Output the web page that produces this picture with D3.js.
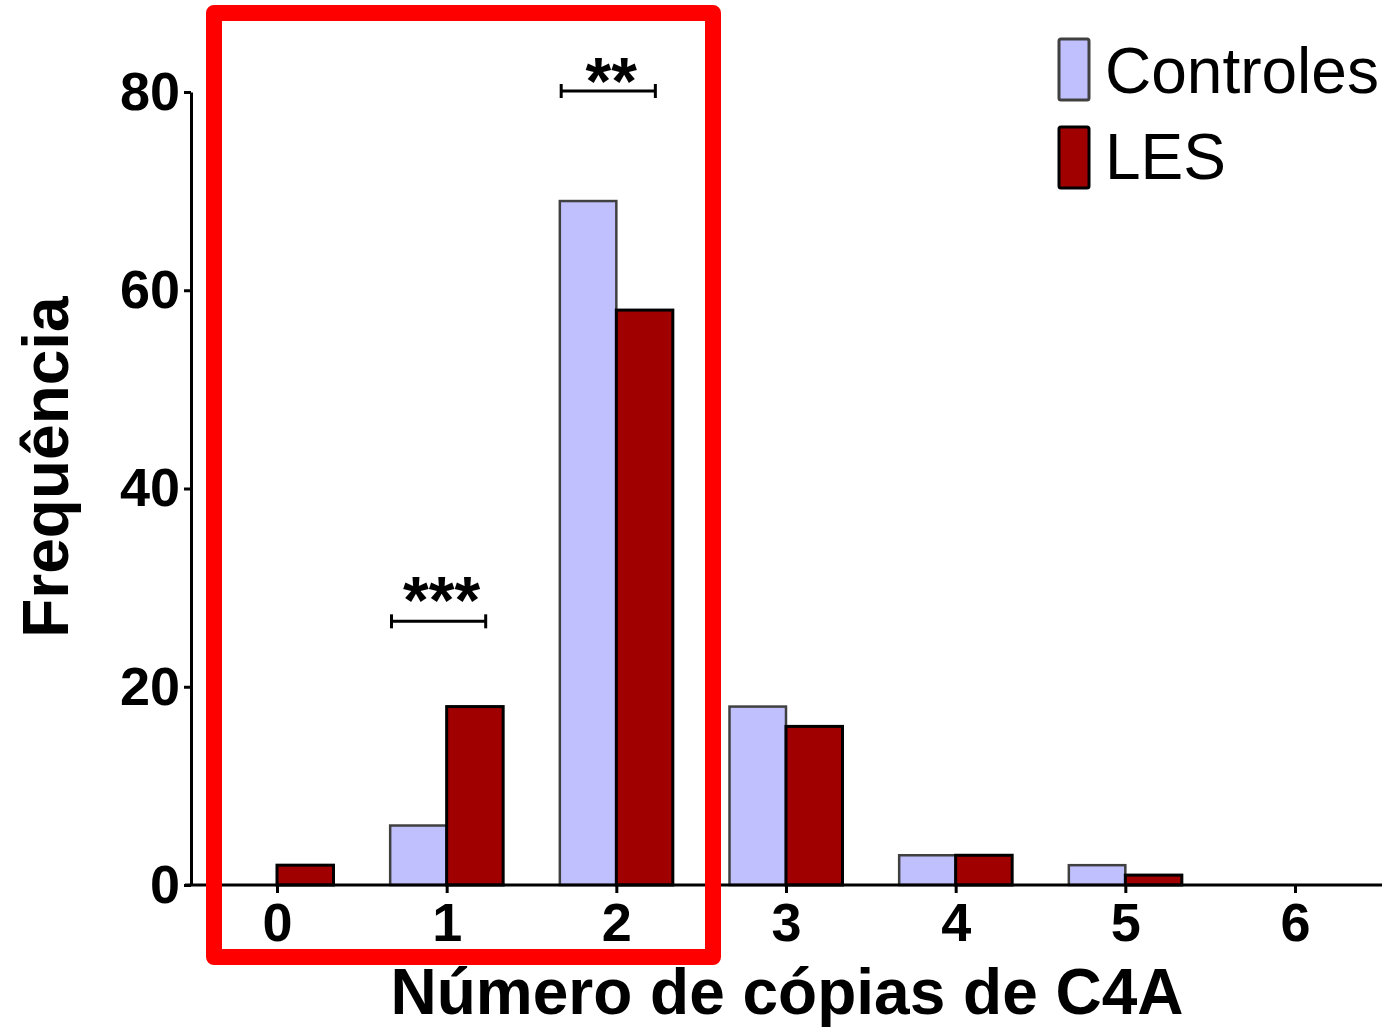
<!DOCTYPE html>
<html>
<head>
<meta charset="utf-8">
<script src="https://cdn.jsdelivr.net/npm/d3@7"></script>
<style>
  html, body { margin: 0; padding: 0; background: #fff; }
  svg { display: block; font-family: "Liberation Sans", Arial, sans-serif; }
</style>
</head>
<body>
<svg id="chart" width="1386" height="1029"></svg>
<script>
// categories = copy number of C4A
const categories = [0, 1, 2, 3, 4, 5, 6];
const controles = [0, 6, 69, 18, 3, 2, 0];
const les = [2, 18, 58, 16, 3, 1, 0];
const yTicks = [0, 20, 40, 60, 80];
const seriesNames = ['Controles', 'LES'];
// significance brackets: category, bracket level, stars
const sigCats = [1, 2];
const sigLevels = [26.6, 80.1];
const sigLabels = ['***', '**'];

const colors = { Controles: '#c0c0ff', LES: '#a00000' };
const strokes = { Controles: '#404040', LES: '#000000' };

const svg = d3.select('#chart');

// scales
const x = d3.scaleLinear().domain([0, 6]).range([277, 1295]);
const y = d3.scaleLinear().domain([0, 80]).range([885, 92]);
const bw = 0.333; // bar width in category units

// bars
const rows = categories.map((c, i) => ({ c, Controles: controles[i], LES: les[i] }));
const bars = svg.append('g');
rows.forEach(r => {
  seriesNames.forEach((s, k) => {
    if (r[s] <= 0) return;
    const x0 = k === 0 ? x(r.c - bw) : x(r.c);
    const x1 = k === 0 ? x(r.c) : x(r.c + bw);
    bars.append('rect')
      .attr('x', x0)
      .attr('y', y(r[s]))
      .attr('width', x1 - x0)
      .attr('height', y(0) - y(r[s]))
      .attr('fill', colors[s])
      .attr('stroke', strokes[s])
      .attr('stroke-width', s === 'LES' ? 3 : 2.5);
  });
});

// x axis
const xAxis = svg.append('g')
  .attr('transform', `translate(0,${y(0)})`)
  .call(d3.axisBottom(x).tickValues(categories).tickFormat(d3.format('d'))
    .tickSize(8).tickSizeOuter(0).tickPadding(10));
xAxis.select('.domain').remove();
xAxis.append('line')
  .attr('x1', x(-0.542)).attr('x2', x(6.513))
  .attr('stroke', '#000').attr('stroke-width', 3);
xAxis.selectAll('.tick line').attr('stroke-width', 3);
xAxis.selectAll('.tick text')
  .attr('font-size', 54).attr('font-weight', 'bold').attr('fill', '#000')
  .attr('font-family', '"Liberation Sans", Arial, sans-serif');

// y axis
const yAxis = svg.append('g')
  .attr('transform', 'translate(191,0)')
  .call(d3.axisLeft(y).tickValues(yTicks).tickFormat(d3.format('d'))
    .tickSize(7).tickSizeOuter(0).tickPadding(4));
yAxis.select('.domain').attr('stroke-width', 3);
yAxis.selectAll('.tick line').attr('stroke-width', 3);
yAxis.selectAll('.tick text')
  .attr('font-size', 54).attr('font-weight', 'bold').attr('fill', '#000')
  .attr('font-family', '"Liberation Sans", Arial, sans-serif');

// axis titles
svg.append('text')
  .attr('x', 787).attr('y', 1014)
  .attr('text-anchor', 'middle')
  .attr('font-size', 64).attr('font-weight', 'bold')
  .text('Número de cópias de C4A');

svg.append('text')
  .attr('transform', 'translate(68,467) rotate(-90)')
  .attr('text-anchor', 'middle')
  .attr('font-size', 64).attr('font-weight', 'bold')
  .text('Frequência');

// significance brackets
const starDy = [2, 13];
sigCats.forEach((c, i) => {
  const g = svg.append('g').attr('stroke', '#000').attr('stroke-width', 3);
  const xl = x(c - 0.325), xr = x(c + 0.23), yy = y(sigLevels[i]);
  g.append('line').attr('x1', xl).attr('x2', xr).attr('y1', yy).attr('y2', yy);
  g.append('line').attr('x1', xl).attr('x2', xl).attr('y1', yy - 7).attr('y2', yy + 7);
  g.append('line').attr('x1', xr).attr('x2', xr).attr('y1', yy - 7).attr('y2', yy + 7);
  svg.append('text')
    .attr('x', (xl + xr) / 2 + 3).attr('y', yy + starDy[i])
    .attr('text-anchor', 'middle')
    .attr('font-size', 66).attr('font-weight', 'bold')
    .text(sigLabels[i]);
});

// legend
const legend = svg.append('g');
seriesNames.forEach((s, i) => {
  legend.append('rect')
    .attr('x', 1059).attr('y', 39 + i * 88)
    .attr('width', 30).attr('height', 61)
    .attr('rx', 2)
    .attr('fill', colors[s])
    .attr('stroke', strokes[s])
    .attr('stroke-width', 3);
  legend.append('text')
    .attr('x', 1105).attr('y', 93 + i * 86)
    .attr('font-size', 64)
    .text(s);
});

// red highlight box
svg.append('rect')
  .attr('x', 214).attr('y', 13)
  .attr('width', 499).attr('height', 944)
  .attr('fill', 'none')
  .attr('stroke', '#ff0000')
  .attr('stroke-width', 16)
  .attr('stroke-linejoin', 'round');
</script>
</body>
</html>
